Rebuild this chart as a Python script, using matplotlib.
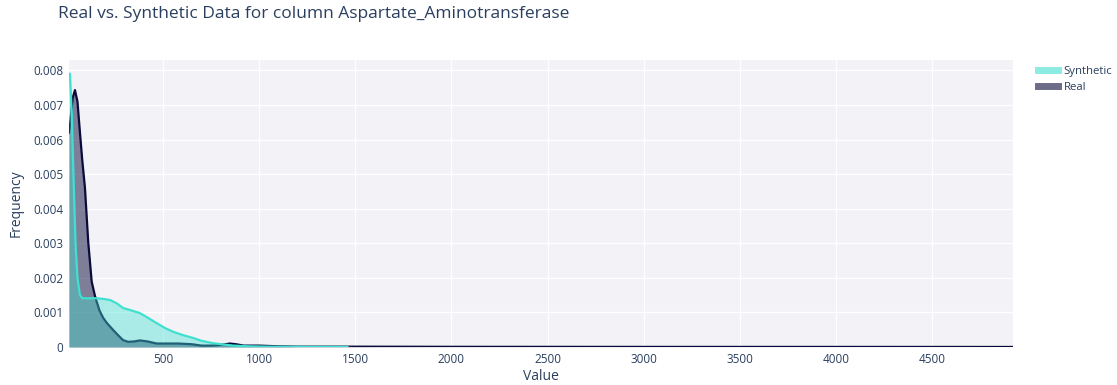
import matplotlib
matplotlib.use("Agg")
import matplotlib.pyplot as plt
from matplotlib.lines import Line2D

# Density estimates for the real and synthetic columns
real_x = [11, 16, 30, 42, 55, 68, 80, 94, 111, 129, 145, 155, 170, 189, 210, 241,
          270, 292, 318, 350, 380, 420, 467, 520, 580, 650, 700, 750, 800, 848,
          880, 920, 1000, 1050, 1100, 1200, 1460, 2000, 3000, 4000, 4921]
real_y = [0.0062, 0.0064, 0.0072, 0.00743, 0.0071, 0.0062, 0.0054, 0.0046, 0.00304,
          0.00189, 0.0015, 0.00131, 0.00105, 0.00084, 0.00068, 0.00049, 0.00032,
          0.0002, 0.00015, 0.00016, 0.00019, 0.00016, 0.0001, 0.0001, 0.0001,
          0.00008, 0.00004, 0.00004, 0.00006, 0.0001, 0.00008, 0.00004, 0.00004,
          0.00003, 0.00002, 0.00001, 0.00001, 0.000005, 0.000003, 0.000002, 0.000001]

synth_x = [11, 16, 25, 35, 45, 55, 68, 80, 100, 130, 155, 190, 224, 260, 292, 340,
           380, 420, 467, 510, 553, 600, 657, 700, 760, 820, 865, 950, 1050, 1200, 1460]
synth_y = [0.0079, 0.0079, 0.0068, 0.0048, 0.0030, 0.0020, 0.0015, 0.00141, 0.00141,
           0.00141, 0.00141, 0.00139, 0.00136, 0.00126, 0.00113, 0.00105, 0.00098,
           0.00085, 0.00069, 0.00055, 0.00044, 0.00035, 0.00026, 0.00018, 0.00011,
           0.00007, 0.00004, 0.00002, 0.00001, 0.000005, 0.000002]

x_ticks = [500, 1000, 1500, 2000, 2500, 3000, 3500, 4000, 4500]
y_ticks = [0, 0.001, 0.002, 0.003, 0.004, 0.005, 0.006, 0.007, 0.008]
y_tick_labels = ["0", "0.001", "0.002", "0.003", "0.004", "0.005", "0.006", "0.007", "0.008"]

REAL_COLOR = "#0B0B3B"
SYNTH_COLOR = "#40E0D0"
TEXT_COLOR = "#2A3F5F"
BG = "#F3F3F7"

plt.rcParams["font.family"] = ["Open Sans", "DejaVu Sans"]

fig = plt.figure(figsize=(11.17, 3.85), dpi=100)
ax = fig.add_axes([69 / 1117, 1 - 347 / 385, (1013 - 69) / 1117, (347 - 60) / 385])
ax.set_facecolor(BG)

ax.fill_between(real_x, real_y, 0, color=REAL_COLOR, alpha=0.5, linewidth=0, zorder=2)
ax.plot(real_x, real_y, color=REAL_COLOR, linewidth=1.6, zorder=3)
ax.fill_between(synth_x, synth_y, 0, color=SYNTH_COLOR, alpha=0.4, linewidth=0, zorder=4)
ax.plot(synth_x, synth_y, color=SYNTH_COLOR, linewidth=1.6, zorder=5)

ax.set_xlim(11, 4921)
ax.set_ylim(0, 0.0083)
ax.set_xticks(x_ticks)
ax.set_yticks(y_ticks)
ax.set_yticklabels(y_tick_labels)
ax.grid(True, color="white", linewidth=0.9, zorder=1)
ax.set_axisbelow(True)
for s in ax.spines.values():
    s.set_visible(False)
ax.tick_params(length=0, colors=TEXT_COLOR, labelsize=8.5, pad=4)

ax.set_xlabel("Value", color=TEXT_COLOR, fontsize=10, va="center")
ax.xaxis.set_label_coords(0.5, -(376 - 347) / 287)
ax.set_ylabel("Frequency", color=TEXT_COLOR, fontsize=10, va="center")
ax.yaxis.set_label_coords(-(69 - 16) / 944, 0.5)

fig.text(58 / 1117, 1 - 14 / 385, "Real vs. Synthetic Data for column Aspartate_Aminotransferase",
         color=TEXT_COLOR, fontsize=12.5, ha="left", va="center")

handles = [
    Line2D([], [], color=SYNTH_COLOR, linewidth=5, alpha=0.6),
    Line2D([], [], color=REAL_COLOR, linewidth=5, alpha=0.6),
]
leg = fig.legend(handles, ["Synthetic", "Real"], loc="upper left",
                 bbox_to_anchor=(1033 / 1117, 1 - 61 / 385), frameon=False,
                 fontsize=8.2, handlelength=1.8, handletextpad=0.5, labelspacing=0.5,
                 borderaxespad=0)
for t in leg.get_texts():
    t.set_color(TEXT_COLOR)

fig.savefig("out.png", dpi=100)
